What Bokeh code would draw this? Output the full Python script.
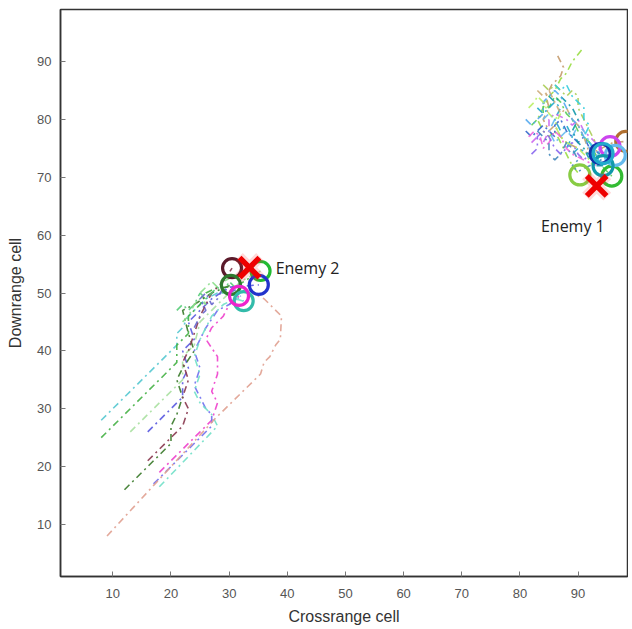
from bokeh.plotting import figure
from bokeh.models import Range1d, FixedTicker
from bokeh.core.properties import value
from bokeh.embed import file_html
from bokeh.resources import INLINE

# ---------------- data ----------------
x_ticks = [10, 20, 30, 40, 50, 60, 70, 80, 90]
y_ticks = [10, 20, 30, 40, 50, 60, 70, 80, 90]

# Enemy 2 trajectories (crossrange, downrange)
e2_cyan_x = [8, 20, 21, 21, 22, 23, 24, 26, 28, 30, 32.5]
e2_cyan_y = [28, 40, 41, 43, 44, 46, 47, 49, 50, 50, 48.6]
e2_green_x = [8, 20, 21, 21, 23, 23, 25, 26, 28, 31, 35.4]
e2_green_y = [25, 37, 38, 41, 43, 46, 48, 50, 51, 51, 53.8]
e2_lgreen_x = [13, 21, 22, 22, 24, 25, 27, 29, 32, 35.4]
e2_lgreen_y = [26, 34, 35, 39, 41, 45, 47, 49, 52, 53.8]
e2_blue_x = [16, 21, 22, 22, 23, 22, 24, 23, 25, 27, 30, 35.1]
e2_blue_y = [26, 31, 32, 35, 37, 40, 42, 45, 47, 49, 51, 51.4]
e2_dgreen_x = [12, 20, 20, 21, 22, 21, 22, 24, 23, 22, 24, 27, 30.3]
e2_dgreen_y = [16, 24, 27, 29, 32, 35, 37, 40, 43, 47, 48, 50, 51.4]
e2_dred_x = [16, 22, 23, 22, 23, 22, 23, 24, 25, 26, 27, 29, 30.5]
e2_dred_y = [21, 27, 30, 32, 35, 38, 40, 43, 46, 48, 50, 52, 54.3]
e2_mag_x = [18, 25, 27, 28, 27, 28, 28, 26, 27, 29, 30, 31.7]
e2_mag_y = [19, 26, 28, 31, 33, 36, 39, 42, 44, 46, 48, 49.5]
e2_blue2_x = [17, 27, 27, 26, 25, 24, 25, 24, 26, 28, 30, 32]
e2_blue2_y = [17, 27, 29, 30, 32, 34, 37, 40, 44, 47, 48, 49.5]
e2_teal_x = [18, 28, 27, 25, 24, 25, 24, 25, 27, 29, 31, 32.5]
e2_teal_y = [16.5, 27, 29, 31, 33, 36, 39, 42, 46, 48, 49, 48.6]
e2_rose_x = [9, 27.7, 35.4, 36, 37, 38, 38.8, 39, 38, 36, 34]
e2_rose_y = [8, 28.4, 36, 38, 39, 41, 42, 46, 47, 49, 50]
e2_sea_x = [21, 22, 23, 24, 25, 26, 27, 28, 29, 30, 31]
e2_sea_y = [47, 48, 47, 48, 50, 49, 50, 51, 50, 52, 51]
e2_lime_x = [22, 23, 24, 25, 26, 25, 26, 27, 28, 29, 31]
e2_lime_y = [45, 46, 48, 49, 48, 50, 51, 52, 51, 52, 53]
e2_indigo_x = [24, 25, 26, 25, 26, 27, 28, 29, 30, 32]
e2_indigo_y = [44, 46, 47, 49, 50, 48, 49, 51, 50, 51]

# Enemy 1 trajectories
e1_brown_x = [86.5, 87.5, 87, 85.5, 84.5, 85, 84, 85, 86, 87, 88, 90, 92, 94, 96, 98.2]
e1_brown_y = [91, 89, 87.5, 86, 84, 82, 80, 78, 79, 77, 76, 75, 74, 75, 76, 76.2]
e1_lgreen_x = [90.6, 89, 88, 87, 86, 85, 84, 83, 84, 85, 86, 87, 88, 89, 90.3]
e1_lgreen_y = [92, 90, 88, 87, 85, 84, 82, 80, 78, 77, 78, 76, 74, 72, 70.4]
e1_green_x = [82, 83, 84, 84, 85, 86, 87, 88, 89, 90, 92, 94, 95.8]
e1_green_y = [79, 80, 81, 83, 82, 84, 83, 81, 80, 78, 76, 72, 70.2]
e1_blue_x = [81, 82, 83, 84, 85, 86, 86, 87, 88, 89, 90, 91, 92, 93.8]
e1_blue_y = [78, 77, 78, 79, 78, 77, 79, 80, 78, 77, 76, 77, 75, 74.1]
e1_cyan_x = [83, 84, 85, 86, 87, 86, 87, 88, 89, 88, 89, 90, 92, 94.3]
e1_cyan_y = [82, 81, 82, 83, 82, 80, 78, 79, 77, 75, 74, 75, 74, 74.1]
e1_purple_x = [82, 83, 84, 85, 85, 86, 88, 89, 90, 91, 93, 95.5]
e1_purple_y = [76, 77, 76, 78, 80, 81, 80, 79, 80, 78, 76, 75.3]
e1_lblue_x = [84, 85, 86, 85, 86, 87, 88, 89, 90, 91, 92, 93, 94, 96.4]
e1_lblue_y = [80, 81, 80, 78, 76, 77, 78, 77, 79, 78, 76, 75, 74, 73.8]
e1_teal_x = [85, 86, 87, 88, 89, 90, 89, 90, 91, 92, 93, 94.3]
e1_teal_y = [84, 83, 84, 83, 82, 80, 78, 76, 75, 73, 72, 72]
e1_tan_x = [83, 84, 85, 86, 87, 88, 89, 90, 91, 92, 93]
e1_tan_y = [85, 84, 85, 83, 81, 82, 80, 79, 77, 74, 72]
e1_mag_x = [81.5, 82.5, 83.5, 84, 85, 86, 87, 88, 89, 91, 93]
e1_mag_y = [77, 78, 77, 75, 76, 78, 77, 75, 74, 73, 72]
e1_sky_x = [81, 82, 83, 84, 84, 85, 86, 87, 88, 89, 90, 91, 92, 94]
e1_sky_y = [80, 79, 80, 81, 83, 84, 85, 84, 82, 80, 79, 77, 75, 73]
e1_olive_x = [84, 85, 86, 87, 88, 89, 90, 90, 91, 92, 93, 95]
e1_olive_y = [86, 85, 86, 85, 84, 85, 84, 82, 80, 78, 76, 74]
e1_violet_x = [82, 83, 83, 84, 85, 86, 87, 88, 89, 90, 91, 92, 94]
e1_violet_y = [74, 75, 77, 78, 77, 75, 74, 75, 76, 74, 73, 74, 75]
e1_aqua_x = [86, 87, 88, 89, 90, 91, 91, 92, 91, 92, 93, 94]
e1_aqua_y = [86, 85, 86, 84, 83, 82, 80, 79, 77, 76, 74, 72]
e1_lime_x = [81.5, 82.5, 83, 84, 85, 86, 87, 86, 87, 88, 90, 92, 93]
e1_lime_y = [82, 83, 84, 83, 81, 80, 81, 79, 77, 76, 75, 73, 71]
e1_steel_x = [83, 84, 85, 85, 86, 87, 88, 89, 90, 89, 90, 92, 94]
e1_steel_y = [78, 77, 76, 74, 73, 74, 76, 75, 73, 72, 71, 72, 73]

# end-point circles
e2_circle_x = [30.5, 30.3, 35.4, 35.1, 32.5, 31.7]
e2_circle_y = [54.3, 51.4, 53.8, 51.4, 48.6, 49.5]
e2_circle_c = ["#5a1a2a", "#2e7a2e", "#22bb33", "#2233cc", "#33bbaa", "#ee22cc"]
e1_circle_x = [98.2, 90.3, 95.8, 95.5, 96.4, 94.3, 93.8, 94.3]
e1_circle_y = [76.2, 70.4, 70.2, 75.3, 73.8, 72.0, 74.1, 74.1]
e1_circle_c = ["#b07030", "#88cc44", "#33bb33", "#cc44ee", "#66bbee", "#1199aa", "#1133aa", "#22aacc"]

# enemy (true target) positions
enemy_x = [93.2, 33.5]
enemy_y = [68.5, 54.4]
enemy_labels = ["Enemy 1", "Enemy 2"]

traj = [
    (e2_cyan_x, e2_cyan_y, "#55c8d0"),
    (e2_green_x, e2_green_y, "#44b044"),
    (e2_lgreen_x, e2_lgreen_y, "#a8e0a0"),
    (e2_blue_x, e2_blue_y, "#5a5ae0"),
    (e2_dgreen_x, e2_dgreen_y, "#3a7a2a"),
    (e2_dred_x, e2_dred_y, "#8a3a50"),
    (e2_mag_x, e2_mag_y, "#ee40cc"),
    (e2_blue2_x, e2_blue2_y, "#7070f0"),
    (e2_teal_x, e2_teal_y, "#70e0c8"),
    (e2_rose_x, e2_rose_y, "#e0a090"),
    (e2_sea_x, e2_sea_y, "#55cc77"),
    (e2_lime_x, e2_lime_y, "#88dd88"),
    (e2_indigo_x, e2_indigo_y, "#6666cc"),
    (e1_brown_x, e1_brown_y, "#c49a6c"),
    (e1_lgreen_x, e1_lgreen_y, "#99dd44"),
    (e1_green_x, e1_green_y, "#55cc55"),
    (e1_blue_x, e1_blue_y, "#3366cc"),
    (e1_cyan_x, e1_cyan_y, "#22aacc"),
    (e1_purple_x, e1_purple_y, "#cc66ee"),
    (e1_lblue_x, e1_lblue_y, "#66bbee"),
    (e1_teal_x, e1_teal_y, "#1199aa"),
    (e1_tan_x, e1_tan_y, "#ccaa77"),
    (e1_mag_x, e1_mag_y, "#ee66dd"),
    (e1_sky_x, e1_sky_y, "#55aaee"),
    (e1_olive_x, e1_olive_y, "#aacc55"),
    (e1_violet_x, e1_violet_y, "#8866ee"),
    (e1_aqua_x, e1_aqua_y, "#33ccdd"),
    (e1_lime_x, e1_lime_y, "#bbee66"),
    (e1_steel_x, e1_steel_y, "#4488bb"),
]

# ---------------- figure ----------------
p = figure(frame_width=567, frame_height=567, output_backend="svg", toolbar_location=None,
           x_range=Range1d(1, 98.5), y_range=Range1d(1, 99),
           min_border_left=60, min_border_top=9, min_border_right=1, min_border_bottom=53)
p.background_fill_color = "white"
p.border_fill_color = "white"
p.outline_line_color = "#333333"
p.outline_line_width = 1.5
p.xgrid.visible = False
p.ygrid.visible = False

for ax in (p.xaxis[0], p.yaxis[0]):
    ax.major_tick_in = 5
    ax.major_tick_out = 0
    ax.minor_tick_line_color = None
    ax.major_tick_line_color = "#777777"
    ax.axis_line_color = "#333333"
    ax.axis_line_width = 1.5
    ax.major_label_text_font = "Liberation Sans"
    ax.major_label_text_font_size = "13px"
    ax.major_label_text_color = "#555555"
    ax.axis_label_text_font = "Liberation Sans"
    ax.axis_label_text_font_style = "normal"
    ax.axis_label_text_font_size = "16px"
    ax.axis_label_text_color = "#333333"

p.xaxis.ticker = FixedTicker(ticks=x_ticks)
p.yaxis.ticker = FixedTicker(ticks=y_ticks)
p.xaxis.axis_label = "Crossrange cell"
p.yaxis.axis_label = "Downrange cell"
p.xaxis.major_label_standoff = 12
p.xaxis.axis_label_standoff = 7
p.yaxis.major_label_standoff = 9
p.yaxis.axis_label_standoff = 10

for xs, ys, c in traj:
    p.line(xs, ys, line_color=c, line_width=1.6, line_alpha=0.9, line_dash="7 4 2 4")

p.scatter(e2_circle_x, e2_circle_y, marker="circle", size=19, fill_color=None,
          line_color=e2_circle_c, line_width=3.2)
p.scatter(e1_circle_x, e1_circle_y, marker="circle", size=20, fill_color=None,
          line_color=e1_circle_c, line_width=3.2)

# red X markers with soft glow
p.scatter(enemy_x, enemy_y, marker="x", size=30, line_color="#ff3030", line_width=11, line_alpha=0.18)
p.scatter(enemy_x, enemy_y, marker="x", size=28, line_color="#ee0000", line_width=5.5)

p.text(x=[89.1], y=[61.6], text=[enemy_labels[0]], text_align="center", text_baseline="middle",
       text_font=value("Open Sans"), text_font_size="16px", text_color="#222222")
p.text(x=[38.0], y=[54.3], text=[enemy_labels[1]], text_align="left", text_baseline="middle",
       text_font=value("Open Sans"), text_font_size="16px", text_color="#222222")

open("out.html", "w").write(file_html(p, INLINE))
